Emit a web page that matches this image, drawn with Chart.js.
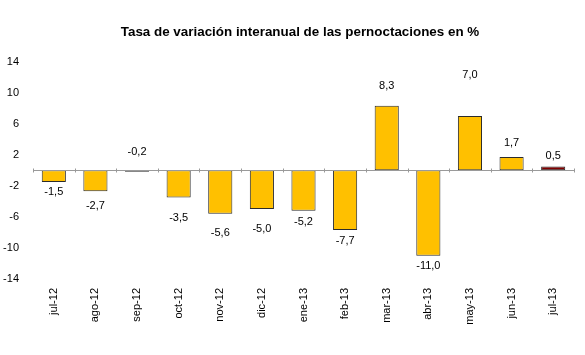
<!DOCTYPE html>
<html><head><meta charset="utf-8">
<script src="https://cdn.jsdelivr.net/npm/chart.js@4"></script>
<style>html,body{margin:0;padding:0;background:#fff}#wrap{width:585px;height:355px}</style>
</head><body><div id="wrap"><canvas id="c" width="585" height="355"></canvas></div>
<script>
const categories = ["jul-12","ago-12","sep-12","oct-12","nov-12","dic-12","ene-13","feb-13","mar-13","abr-13","may-13","jun-13","jul-13"];
const values = [-1.5,-2.7,-0.2,-3.5,-5.6,-5.0,-5.2,-7.7,8.3,-11.0,7.0,1.7,0.5];
const yTicks = [-14,-10,-6,-2,2,6,10,14];
const titleText = "Tasa de variación interanual de las pernoctaciones en %";

// label pixel shift from bar end (style only)
const labelShift = [10,15,-20,20,19,20,11,11,-20,10,-41,-14,-10];
const fillColors = categories.map((c,i)=> i===categories.length-1 ? "#800000" : "#FFC000");

const FONT = "'Liberation Sans', Arial, sans-serif";

const zeroLine = {
  id:'zeroLine',
  afterDatasetsDraw(chart){
    const ctx = chart.ctx, x = chart.scales.x, y = chart.scales.y;
    const y0 = Math.round(y.getPixelForValue(0)) + 0.5;
    const a = chart.chartArea;
    ctx.save();
    ctx.strokeStyle = '#9a9a9a'; ctx.lineWidth = 1;
    ctx.beginPath(); ctx.moveTo(a.left, y0); ctx.lineTo(a.right, y0);
    const n = categories.length, step = (a.right - a.left)/n;
    for (let i=0;i<=n;i++){ const px = Math.round(a.left + i*step)+0.5; ctx.moveTo(px, y0-2); ctx.lineTo(px, y0+2); }
    ctx.stroke();
    // value labels
    const meta = chart.getDatasetMeta(0);
    ctx.fillStyle = '#000'; ctx.font = "11px " + FONT; ctx.textAlign='center'; ctx.textBaseline='middle';
    meta.data.forEach((bar,i)=>{
      const txt = values[i].toFixed(1).replace('.', ',');
      ctx.fillText(txt, bar.x, bar.y + labelShift[i]);
    });
    // title
    ctx.font = "bold 13.4px " + FONT;
    ctx.fillText(titleText, 300, 32);
    ctx.restore();
  }
};

new Chart(document.getElementById('c'), {
  type:'bar',
  data:{ labels: categories, datasets:[{ data: values, backgroundColor: fillColors, borderColor:'#2b2b2b', borderWidth:1, borderSkipped:false, barPercentage:0.58, categoryPercentage:1 }] },
  options:{
    responsive:false, animation:false,
    layout:{ padding:{ left:0, right:11, top:0, bottom:0 } },
    plugins:{
      legend:{ display:false }, tooltip:{ enabled:false },
      title:{ display:true, text:titleText, color:'rgba(0,0,0,0)', font:{ family:FONT, size:13, weight:'bold' }, padding:{ top:24, bottom:22 } }
    },
    scales:{
      x:{ grid:{ display:false }, border:{ display:false },
          ticks:{ color:'#000', font:{ family:FONT, size:11 }, maxRotation:90, minRotation:90, padding:1 },
          afterFit(s){ s.height = 76; } },
      y:{ min:-14, max:14, grid:{ display:false }, border:{ display:false },
          afterBuildTicks(s){ s.ticks = yTicks.map(v=>({value:v})); },
          ticks:{ color:'#000', font:{ family:FONT, size:11 }, padding:6 },
          afterFit(s){ s.width = 33; } }
    }
  },
  plugins:[zeroLine]
});
</script></body></html>
